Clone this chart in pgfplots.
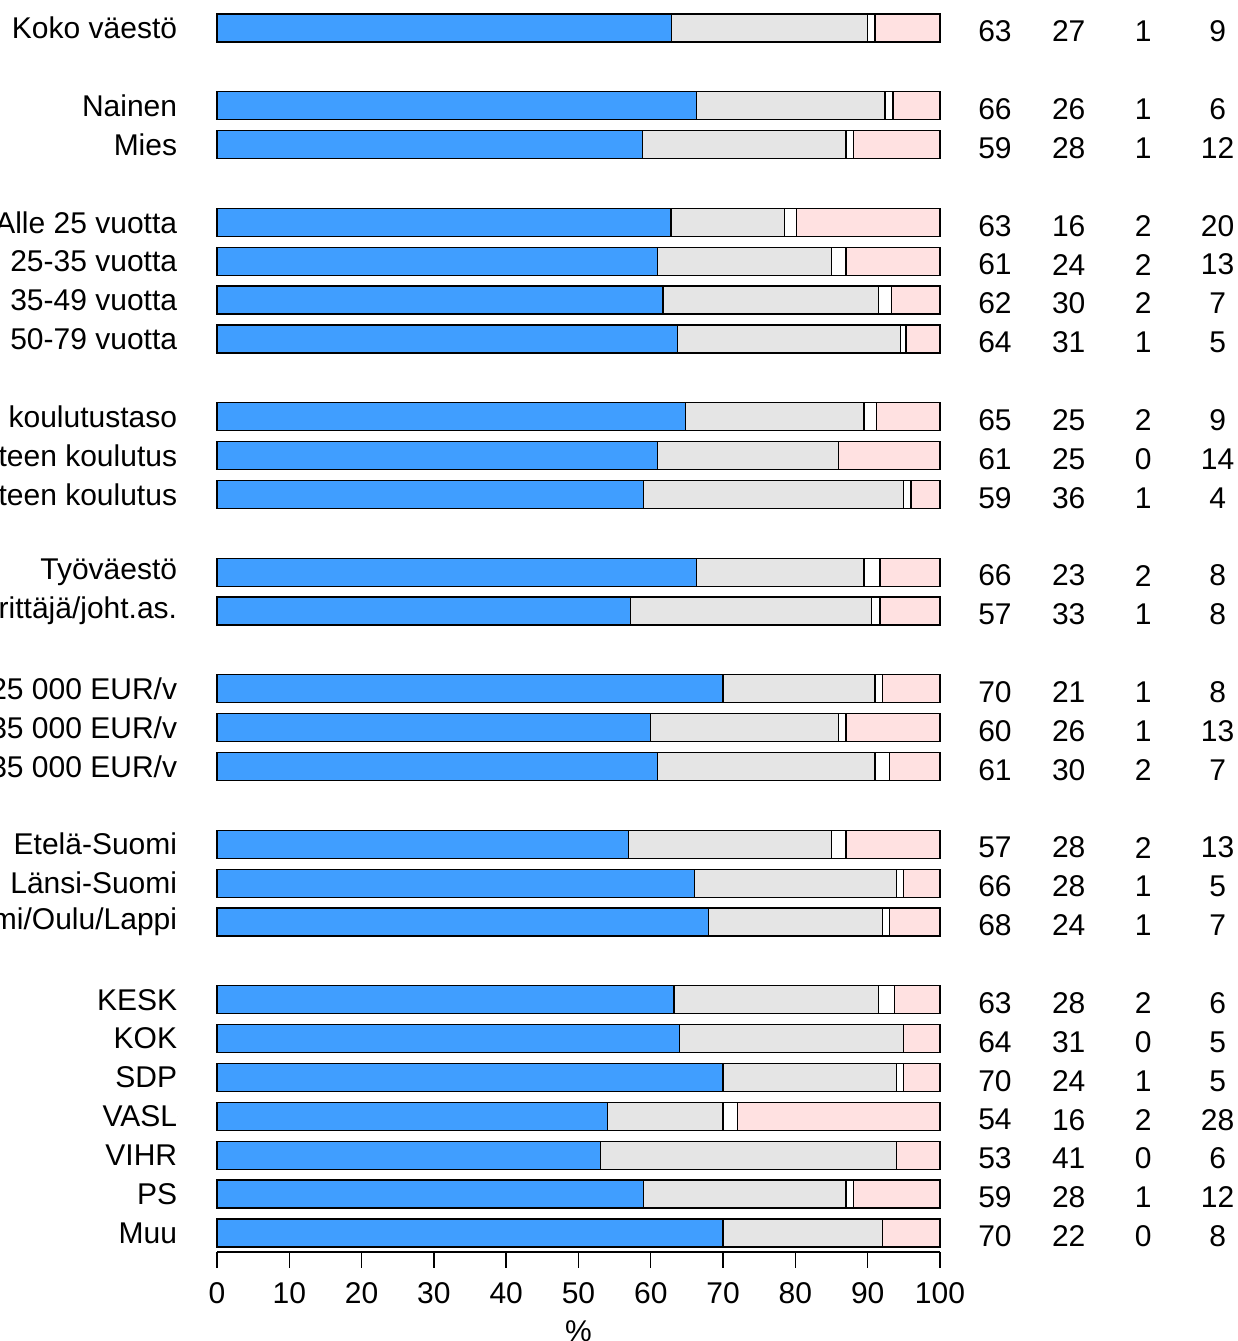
\documentclass[border=0pt]{standalone}
\usepackage{fontspec}
\setmainfont{Liberation Sans}
\usepackage{pgfplots}
\usepackage{pgfplotstable}
\pgfplotsset{compat=1.18}
\definecolor{cblue}{RGB}{64,158,255}
\definecolor{cgray}{RGB}{229,229,229}
\definecolor{cpink}{RGB}{255,225,225}

\pgfplotstableread[col sep=comma]{
y,name,a,b,c,d,la,lb,lc,ld
0,Koko väestö,62.9,27.1,1.0,9.0,63,27,1,9
-2,Nainen,66.3,26.1,1.1,6.5,66,26,1,6
-3,Mies,58.9,28.1,1.0,12.0,59,28,1,12
-5,Alle 25 vuotta,62.8,15.7,1.7,19.8,63,16,2,20
-6,25-35 vuotta,60.9,24.1,2.0,13.0,61,24,2,13
-7,35-49 vuotta,61.7,29.8,1.8,6.7,62,30,2,7
-8,50-79 vuotta,63.7,30.8,0.8,4.7,64,31,1,5
-10,Perusasteen koulutustaso,64.8,24.7,1.7,8.8,65,25,2,9
-11,Keskiasteen koulutus,60.9,25.1,0,14.0,61,25,0,14
-12,Korkea-asteen koulutus,59.0,36.0,1.0,4.0,59,36,1,4
-14,Työväestö,66.3,23.2,2.2,8.3,66,23,2,8
-15,Yrittäjä/joht.as.,57.2,33.3,1.2,8.3,57,33,1,8
-17,Alle 25 000 EUR/v,70.0,21.0,1.0,8.0,70,21,1,8
-18,25 000-35 000 EUR/v,60.0,26.0,1.0,13.0,60,26,1,13
-19,Yli 35 000 EUR/v,60.9,30.1,2.0,7.0,61,30,2,7
-21,Etelä-Suomi,56.9,28.1,2.0,13.0,57,28,2,13
-22,Länsi-Suomi,66.0,28.0,1.0,5.0,66,28,1,5
-23,Itä-Suomi/Oulu/Lappi,68.0,24.0,1.0,7.0,68,24,1,7
-25,KESK,63.2,28.3,2.2,6.3,63,28,2,6
-26,KOK,64.0,31.0,0,5.0,64,31,0,5
-27,SDP,70.0,24.0,1.0,5.0,70,24,1,5
-28,VASL,54.0,16.0,2.0,28.0,54,16,2,28
-29,VIHR,53.0,41.0,0,6.0,53,41,0,6
-30,PS,59.0,28.0,1.0,12.0,59,28,1,12
-31,Muu,70.0,22.0,0,8.0,70,22,0,8
}\data

\pgfplotsset{
  common/.style={
    scale only axis,
    width=361.5pt, height=621.7pt,
    xmin=0, xmax=100, ymin=-31.49, ymax=0.5,
    clip=false,
  },
  txt/.style={
    only marks, mark=*, mark size=0pt, mark options={draw=none, fill=none},
    nodes near coords, point meta=explicit symbolic,
  },
}

\begin{document}
\fontsize{15}{18}\selectfont
\begin{tikzpicture}[font=\fontsize{15}{18}\selectfont]
\begin{axis}[
  common,
  xbar stacked,
  bar width=0.72,
  axis x line=bottom,
  axis y line=none,
  x axis line style={-, line width=1.3pt},
  xtick={0,10,...,100},
  ytick=\empty,
  tick align=outside,
  major tick length=8pt,
  x tick style={black, line width=0.7pt},
  /pgf/number format/assume math mode=true,
  xticklabel style={anchor=north, yshift=-2pt},
  xlabel={\%},
  xlabel style={at={(axis description cs:0.5,0)}, anchor=north, yshift=-29pt},
  every axis plot/.append style={draw=black, line width=0.6pt},
]
\addplot[fill=cblue] table[x=a, y=y] {\data};
\addplot[fill=cgray] table[x=b, y=y] {\data};
\addplot[fill=white] table[x=c, y=y] {\data};
\addplot[fill=cpink] table[x=d, y=y] {\data};
\end{axis}
\begin{axis}[common, hide axis]
\addplot[txt, nodes near coords style={anchor=east, inner sep=0pt}] table[x expr=-5.46, y=y, meta=name] {\data};
\addplot[txt, nodes near coords style={anchor=center, yshift=-1.7pt}] table[x expr=107.6, y=y, meta=la] {\data};
\addplot[txt, nodes near coords style={anchor=center, yshift=-1.7pt}] table[x expr=117.8, y=y, meta=lb] {\data};
\addplot[txt, nodes near coords style={anchor=center, yshift=-1.7pt}] table[x expr=128.1, y=y, meta=lc] {\data};
\addplot[txt, nodes near coords style={anchor=center, yshift=-1.7pt}] table[x expr=138.4, y=y, meta=ld] {\data};
\coordinate (bbSW) at (axis cs:-30.01,-33.78);
\coordinate (bbNE) at (axis cs:141.08,0.72);
\end{axis}
\pgfresetboundingbox
\useasboundingbox (bbSW) rectangle (bbNE);
\end{tikzpicture}
\end{document}
